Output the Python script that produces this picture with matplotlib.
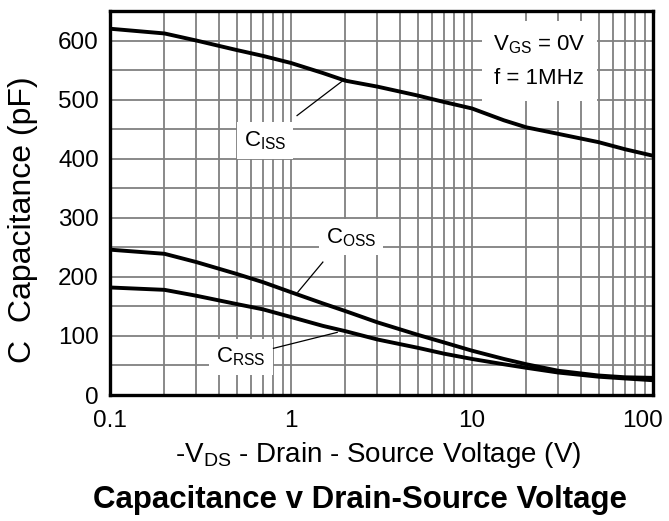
import numpy as np
import matplotlib
matplotlib.use("Agg")
import matplotlib.pyplot as plt
from matplotlib.transforms import ScaledTranslation

plt.rcParams['font.family'] = ['Liberation Sans', 'DejaVu Sans']
plt.rcParams['mathtext.fontset'] = 'custom'
plt.rcParams['mathtext.rm'] = 'Liberation Sans'
plt.rcParams['mathtext.it'] = 'Liberation Sans'

# 数据 (读自图像)
vds = [0.1, 0.2, 0.3, 0.5, 0.7, 1, 1.5, 2, 3, 5, 7, 10, 15, 20, 30, 50, 70, 100]
ciss = [620, 612, 600, 584, 574, 562, 545, 532, 522, 507, 496, 485, 465, 453, 442, 428, 416, 405]
coss = [246, 239, 225, 205, 191, 174, 155, 142, 123, 102, 89, 75, 61, 52, 41, 33, 30, 29]
crss = [182, 178, 168, 154, 145, 132, 117, 108, 94, 80, 70, 61, 52, 46, 38, 31, 28, 25]

x_ticks = [0.1, 1, 10, 100]
x_tick_labels = ['0.1', '1', '10', '100']
y_ticks = [0, 100, 200, 300, 400, 500, 600]

fig = plt.figure(figsize=(6.69, 5.21), dpi=100)
ax = fig.add_axes([110 / 669, 1 - 395 / 521, 543 / 669, 384 / 521])

# 曲线
for ys in (ciss, coss, crss):
    ax.plot(vds, ys, color='black', linewidth=2.8, zorder=4)

ax.set_xscale('log')
ax.set_xlim(0.1, 100)
ax.set_ylim(0, 650)
ax.set_xticks(x_ticks)
ax.set_xticklabels(x_tick_labels)
ax.set_yticks(y_ticks)
ax.set_yticks(np.arange(50, 650, 100), minor=True)
ax.xaxis.set_minor_formatter(matplotlib.ticker.NullFormatter())
ax.grid(True, which='both', color='#808080', linewidth=1.3, zorder=1)
ax.set_axisbelow(True)
ax.tick_params(which='both', length=0, labelsize=17.5)
ax.tick_params(axis='x', pad=11)
ax.tick_params(axis='y', pad=8)
for s in ax.spines.values():
    s.set_linewidth(2.4)
    s.set_zorder(5)

# 最右边的 "100" 稍往左移, 避免被裁掉
last = ax.get_xticklabels()[-1]
last.set_transform(last.get_transform() + ScaledTranslation(-10 / 100, 0, fig.dpi_scale_trans))

# 标注
box = dict(facecolor='white', edgecolor='none', pad=5)
ax.text(0.72, 431, r'C$_{\rm ISS}$', fontsize=16, ha='center', va='center', bbox=box, zorder=3)
ax.plot([1.08, 1.99], [473, 535], color='black', linewidth=0.9, zorder=4)
ax.text(2.15, 267, r'C$_{\rm OSS}$', fontsize=16, ha='center', va='center', bbox=box, zorder=3)
ax.plot([1.5, 1.09], [225, 174], color='black', linewidth=0.9, zorder=4)
ax.text(0.53, 64, r'C$_{\rm RSS}$', fontsize=16, ha='center', va='center', bbox=box, zorder=3)
ax.plot([0.8, 1.8], [79, 106], color='black', linewidth=0.9, zorder=4)

ax.text(23.5, 565, 'V$_{\\rm GS}$ = 0V\nf = 1MHz', fontsize=16, ha='center', va='center',
        linespacing=1.8, bbox=dict(facecolor='white', edgecolor='none', pad=8), zorder=3)

fig.text(23 / 669, 1 - 220 / 521, 'C  Capacitance (pF)', fontsize=23, rotation=90,
         ha='center', va='center')
fig.text(378 / 669, 1 - 455 / 521, r'-V$_{\rm DS}$ - Drain - Source Voltage (V)', fontsize=20,
         ha='center', va='center')
fig.text(360 / 669, 1 - 500 / 521, 'Capacitance v Drain-Source Voltage', fontsize=22.5,
         fontweight='bold', ha='center', va='center')

fig.savefig('out.png', dpi=100)
